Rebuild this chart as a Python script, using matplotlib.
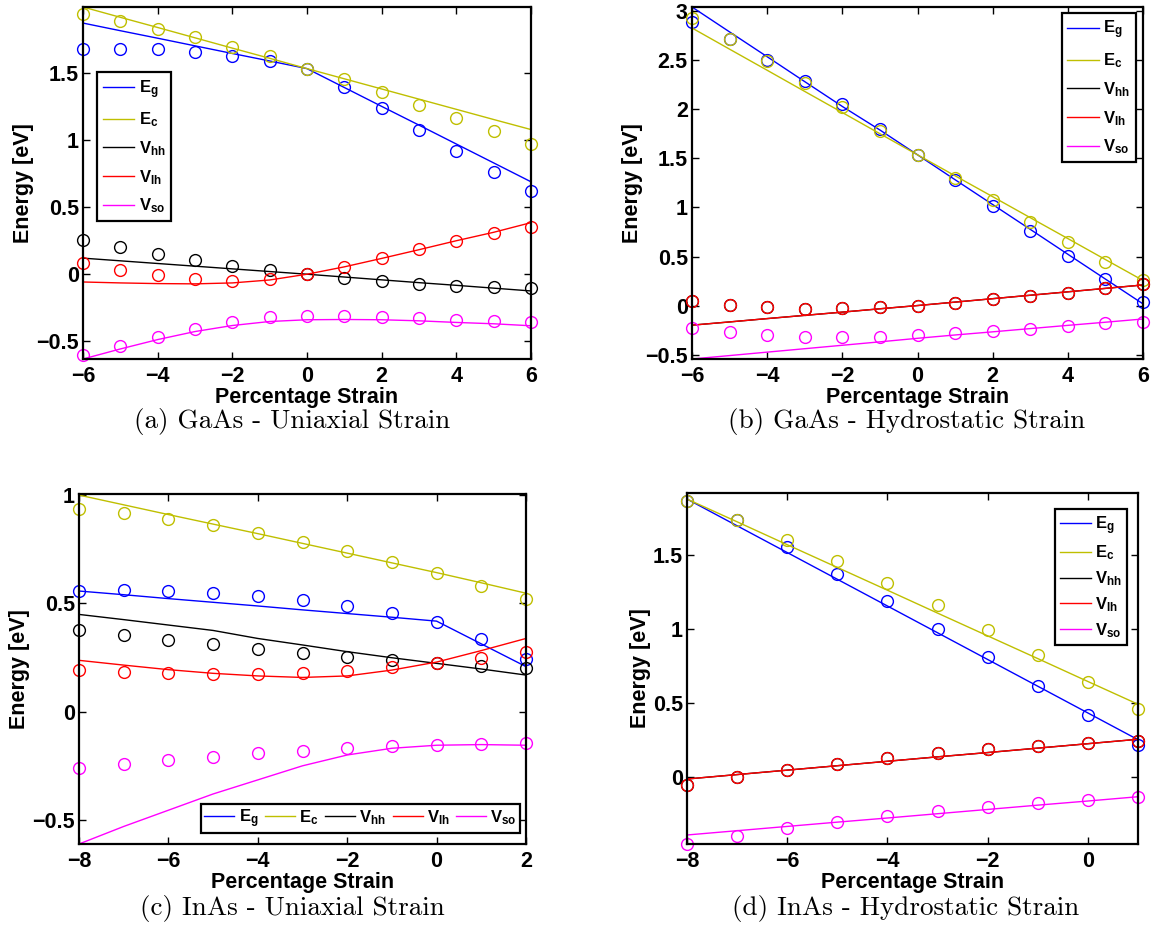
"""
GaAs / InAs band energies vs strain: tight-binding circles and fitted lines
"""
import matplotlib
matplotlib.use("Agg")
import matplotlib.pyplot as plt
from matplotlib.ticker import FuncFormatter

# ---------------- (a) GaAs - Uniaxial Strain ----------------
x_a = [-6, -5, -4, -3, -2, -1, 0, 1, 2, 3, 4, 5, 6]
eg_pts_a = [1.68, 1.685, 1.68, 1.66, 1.63, 1.59, 1.535, 1.395, 1.24, 1.08, 0.92, 0.76, 0.62]
eg_fit_a = [1.875, 1.818, 1.762, 1.705, 1.648, 1.592, 1.535, 1.394, 1.253, 1.113, 0.972, 0.831, 0.69]
ec_pts_a = [1.94, 1.89, 1.83, 1.77, 1.70, 1.63, 1.535, 1.455, 1.36, 1.265, 1.17, 1.07, 0.97]
ec_fit_a = [1.995, 1.918, 1.842, 1.765, 1.688, 1.612, 1.535, 1.459, 1.383, 1.307, 1.231, 1.155, 1.08]
hh_pts_a = [0.255, 0.20, 0.15, 0.105, 0.065, 0.035, 0.0, -0.028, -0.053, -0.073, -0.088, -0.098, -0.103]
hh_fit_a = [0.12, 0.10, 0.08, 0.06, 0.04, 0.02, 0.0, -0.021, -0.042, -0.063, -0.083, -0.104, -0.125]
lh_pts_a = [0.08, 0.03, -0.008, -0.035, -0.05, -0.035, 0.0, 0.055, 0.118, 0.185, 0.25, 0.31, 0.35]
lh_fit_a = [-0.058, -0.065, -0.07, -0.072, -0.065, -0.043, 0.0, 0.055, 0.118, 0.183, 0.25, 0.313, 0.385]
so_pts_a = [-0.605, -0.538, -0.47, -0.41, -0.358, -0.323, -0.31, -0.31, -0.32, -0.33, -0.34, -0.35, -0.358]
so_fit_a = [-0.633, -0.558, -0.488, -0.428, -0.383, -0.353, -0.34, -0.338, -0.34, -0.348, -0.36, -0.37, -0.385]

# ---------------- (b) GaAs - Hydrostatic Strain ----------------
x_b = [-6, -5, -4, -3, -2, -1, 0, 1, 2, 3, 4, 5, 6]
eg_pts_b = [2.888, 2.717, 2.506, 2.294, 2.05, 1.80, 1.537, 1.278, 1.016, 0.757, 0.508, 0.269, 0.04]
eg_fit_b = [3.044, 2.79, 2.537, 2.283, 2.03, 1.79, 1.537, 1.283, 1.03, 0.777, 0.523, 0.27, 0.017]
ec_pts_b = [2.93, 2.717, 2.489, 2.267, 2.02, 1.783, 1.537, 1.30, 1.074, 0.85, 0.644, 0.443, 0.256]
ec_fit_b = [2.83, 2.614, 2.399, 2.183, 1.968, 1.752, 1.537, 1.323, 1.11, 0.896, 0.683, 0.469, 0.256]
hh_pts_b = [0.044, 0.007, -0.017, -0.034, -0.027, -0.01, 0.0, 0.03, 0.065, 0.099, 0.133, 0.174, 0.215]
hh_fit_b = [-0.20, -0.167, -0.133, -0.10, -0.067, -0.033, 0.0, 0.035, 0.07, 0.105, 0.14, 0.175, 0.21]
lh_pts_b = [0.044, 0.007, -0.017, -0.034, -0.027, -0.01, 0.0, 0.03, 0.065, 0.099, 0.133, 0.174, 0.215]
lh_fit_b = [-0.20, -0.167, -0.133, -0.10, -0.067, -0.033, 0.0, 0.035, 0.07, 0.105, 0.14, 0.175, 0.21]
so_pts_b = [-0.229, -0.273, -0.30, -0.317, -0.324, -0.317, -0.30, -0.283, -0.263, -0.239, -0.208, -0.18, -0.167]
so_fit_b = [-0.545, -0.51, -0.475, -0.44, -0.405, -0.37, -0.334, -0.30, -0.268, -0.235, -0.202, -0.17, -0.137]

# ---------------- (c) InAs - Uniaxial Strain ----------------
x_c = [-8, -7, -6, -5, -4, -3, -2, -1, 0, 1, 2]
eg_pts_c = [0.557, 0.56, 0.557, 0.548, 0.534, 0.514, 0.488, 0.454, 0.414, 0.334, 0.243]
eg_fit_c = [0.557, 0.54, 0.522, 0.505, 0.488, 0.47, 0.453, 0.436, 0.418, 0.313, 0.208]
ec_pts_c = [0.935, 0.915, 0.889, 0.86, 0.825, 0.785, 0.742, 0.692, 0.64, 0.58, 0.518]
ec_fit_c = [1.0, 0.955, 0.91, 0.866, 0.822, 0.777, 0.732, 0.687, 0.642, 0.595, 0.547]
hh_pts_c = [0.378, 0.355, 0.332, 0.311, 0.289, 0.271, 0.252, 0.237, 0.225, 0.212, 0.20]
hh_fit_c = [0.449, 0.425, 0.40, 0.375, 0.338, 0.308, 0.277, 0.249, 0.223, 0.197, 0.169]
lh_pts_c = [0.194, 0.185, 0.177, 0.172, 0.172, 0.177, 0.188, 0.205, 0.226, 0.249, 0.275]
lh_fit_c = [0.237, 0.215, 0.194, 0.177, 0.165, 0.158, 0.165, 0.192, 0.229, 0.282, 0.338]
so_pts_c = [-0.26, -0.242, -0.225, -0.208, -0.192, -0.18, -0.168, -0.158, -0.154, -0.149, -0.146]
so_fit_c = [-0.611, -0.53, -0.455, -0.38, -0.315, -0.25, -0.20, -0.169, -0.155, -0.152, -0.155]

# ---------------- (d) InAs - Hydrostatic Strain ----------------
x_d = [-8, -7, -6, -5, -4, -3, -2, -1, 0, 1]
eg_pts_d = [1.864, 1.739, 1.554, 1.371, 1.186, 0.998, 0.809, 0.614, 0.418, 0.215]
eg_fit_d = [1.879, 1.698, 1.517, 1.336, 1.155, 0.974, 0.793, 0.612, 0.431, 0.25]
ec_pts_d = [1.864, 1.739, 1.604, 1.461, 1.312, 1.159, 0.994, 0.822, 0.644, 0.456]
ec_fit_d = [1.879, 1.725, 1.57, 1.416, 1.262, 1.107, 0.953, 0.799, 0.644, 0.49]
hh_pts_d = [-0.056, 0.0, 0.045, 0.088, 0.129, 0.16, 0.187, 0.21, 0.228, 0.242]
hh_fit_d = [-0.016, 0.014, 0.044, 0.074, 0.104, 0.134, 0.163, 0.193, 0.223, 0.253]
lh_pts_d = [-0.056, 0.0, 0.045, 0.088, 0.129, 0.16, 0.187, 0.21, 0.228, 0.242]
lh_fit_d = [-0.016, 0.014, 0.044, 0.074, 0.104, 0.134, 0.163, 0.193, 0.223, 0.253]
so_pts_d = [-0.456, -0.40, -0.35, -0.305, -0.267, -0.23, -0.203, -0.176, -0.156, -0.14]
so_fit_d = [-0.395, -0.366, -0.337, -0.308, -0.28, -0.251, -0.222, -0.193, -0.165, -0.136]

band_labels = [r'$\mathbf{E_g}$', r'$\mathbf{E_c}$', r'$\mathbf{V_{hh}}$',
               r'$\mathbf{V_{lh}}$', r'$\mathbf{V_{so}}$']
band_colors = ['#0000FF', '#BFBF00', '#000000', '#FF0000', '#FF00FF']
captions = ['(a) GaAs - Uniaxial Strain', '(b) GaAs - Hydrostatic Strain',
            '(c) InAs - Uniaxial Strain', '(d) InAs - Hydrostatic Strain']

plt.rcParams['font.family'] = ['Liberation Sans', 'DejaVu Sans']
plt.rcParams['font.weight'] = 'bold'
plt.rcParams['mathtext.fontset'] = 'custom'
plt.rcParams['mathtext.bf'] = 'Liberation Sans:bold'
plt.rcParams['mathtext.rm'] = 'Liberation Sans:bold'
plt.rcParams['mathtext.it'] = 'Liberation Sans:bold'


def fmt(v, pos):
    return f'{v:g}'.replace('-', '\u2212')


def draw_panel(ax, x, pts, fits, xlim, ylim, xticks, yticks, legend_kw):
    """Одна панель: кружки - расчёт, линии - аппроксимация"""
    for p, f, c, lab in zip(pts, fits, band_colors, band_labels):
        ax.plot(x, f, color=c, linewidth=1.0, label=lab)
        ax.plot(x, p, linestyle='none', marker='o', markersize=8.5,
                markerfacecolor='none', markeredgecolor=c,
                markeredgewidth=1.0, clip_on=False)
    ax.set_xlim(*xlim)
    ax.set_ylim(*ylim)
    ax.set_xticks(xticks)
    ax.set_yticks(yticks)
    ax.xaxis.set_major_formatter(FuncFormatter(fmt))
    ax.yaxis.set_major_formatter(FuncFormatter(fmt))
    ax.tick_params(direction='in', top=True, right=True, length=5, width=1,
                   labelsize=15.5)
    ax.tick_params(axis='x', pad=5)
    ax.tick_params(axis='y', pad=3)
    for s in ax.spines.values():
        s.set_linewidth(1.6)
    ax.set_xlabel('Percentage Strain', fontsize=15.5, fontweight='bold', labelpad=0)
    ax.set_ylabel('Energy [eV]', fontsize=15.5, fontweight='bold', labelpad=1.5)
    opts = dict(fancybox=False, framealpha=1, edgecolor='black',
                fontsize=12, handlelength=1.9, handletextpad=0.25,
                borderpad=0.35, labelspacing=0.6, borderaxespad=0)
    opts.update(legend_kw)
    leg = ax.legend(**opts)
    leg.get_frame().set_linewidth(1.6)


fig = plt.figure(figsize=(11.57, 9.26), dpi=100)

ax_a = fig.add_axes([83 / 1157, 1 - 359 / 926, 448 / 1157, 352 / 926])
draw_panel(ax_a, x_a,
           [eg_pts_a, ec_pts_a, hh_pts_a, lh_pts_a, so_pts_a],
           [eg_fit_a, ec_fit_a, hh_fit_a, lh_fit_a, so_fit_a],
           (-6, 6), (-0.633, 1.995), range(-6, 7, 2),
           [-0.5, 0, 0.5, 1, 1.5],
           dict(loc='upper left', bbox_to_anchor=(0.031, 0.815)))

ax_b = fig.add_axes([692 / 1157, 1 - 359 / 926, 451 / 1157, 352 / 926])
draw_panel(ax_b, x_b,
           [eg_pts_b, ec_pts_b, hh_pts_b, lh_pts_b, so_pts_b],
           [eg_fit_b, ec_fit_b, hh_fit_b, lh_fit_b, so_fit_b],
           (-6, 6), (-0.545, 3.044), range(-6, 7, 2),
           [-0.5, 0, 0.5, 1, 1.5, 2, 2.5, 3],
           dict(loc='upper right', bbox_to_anchor=(0.984, 0.983)))

ax_c = fig.add_axes([79 / 1157, 1 - 844 / 926, 447 / 1157, 350 / 926])
draw_panel(ax_c, x_c,
           [eg_pts_c, ec_pts_c, hh_pts_c, lh_pts_c, so_pts_c],
           [eg_fit_c, ec_fit_c, hh_fit_c, lh_fit_c, so_fit_c],
           (-8, 2), (-0.611, 1.005), range(-8, 3, 2),
           [-0.5, 0, 0.5, 1],
           dict(loc='lower right', bbox_to_anchor=(0.987, 0.031), ncol=5,
                columnspacing=0.4, handlelength=1.8, borderpad=0.2))

ax_d = fig.add_axes([687 / 1157, 1 - 844 / 926, 451 / 1157, 351 / 926])
draw_panel(ax_d, x_d,
           [eg_pts_d, ec_pts_d, hh_pts_d, lh_pts_d, so_pts_d],
           [eg_fit_d, ec_fit_d, hh_fit_d, lh_fit_d, so_fit_d],
           (-8, 1), (-0.456, 1.92), range(-8, 1, 2),
           [0, 0.5, 1, 1.5],
           dict(loc='upper right', bbox_to_anchor=(0.976, 0.954),
                labelspacing=0.42, borderpad=0.3))

# подписи под панелями (как в LaTeX subfigure)
cap_pos = [(292, 421), (907, 421), (292, 908), (906, 908)]
for (px, py), cap in zip(cap_pos, captions):
    fig.text(px / 1157, 1 - py / 926, cap, ha='center', va='center',
             fontsize=19.5, fontfamily='cmr10', fontweight='normal')

fig.savefig('out.png', dpi=100)
